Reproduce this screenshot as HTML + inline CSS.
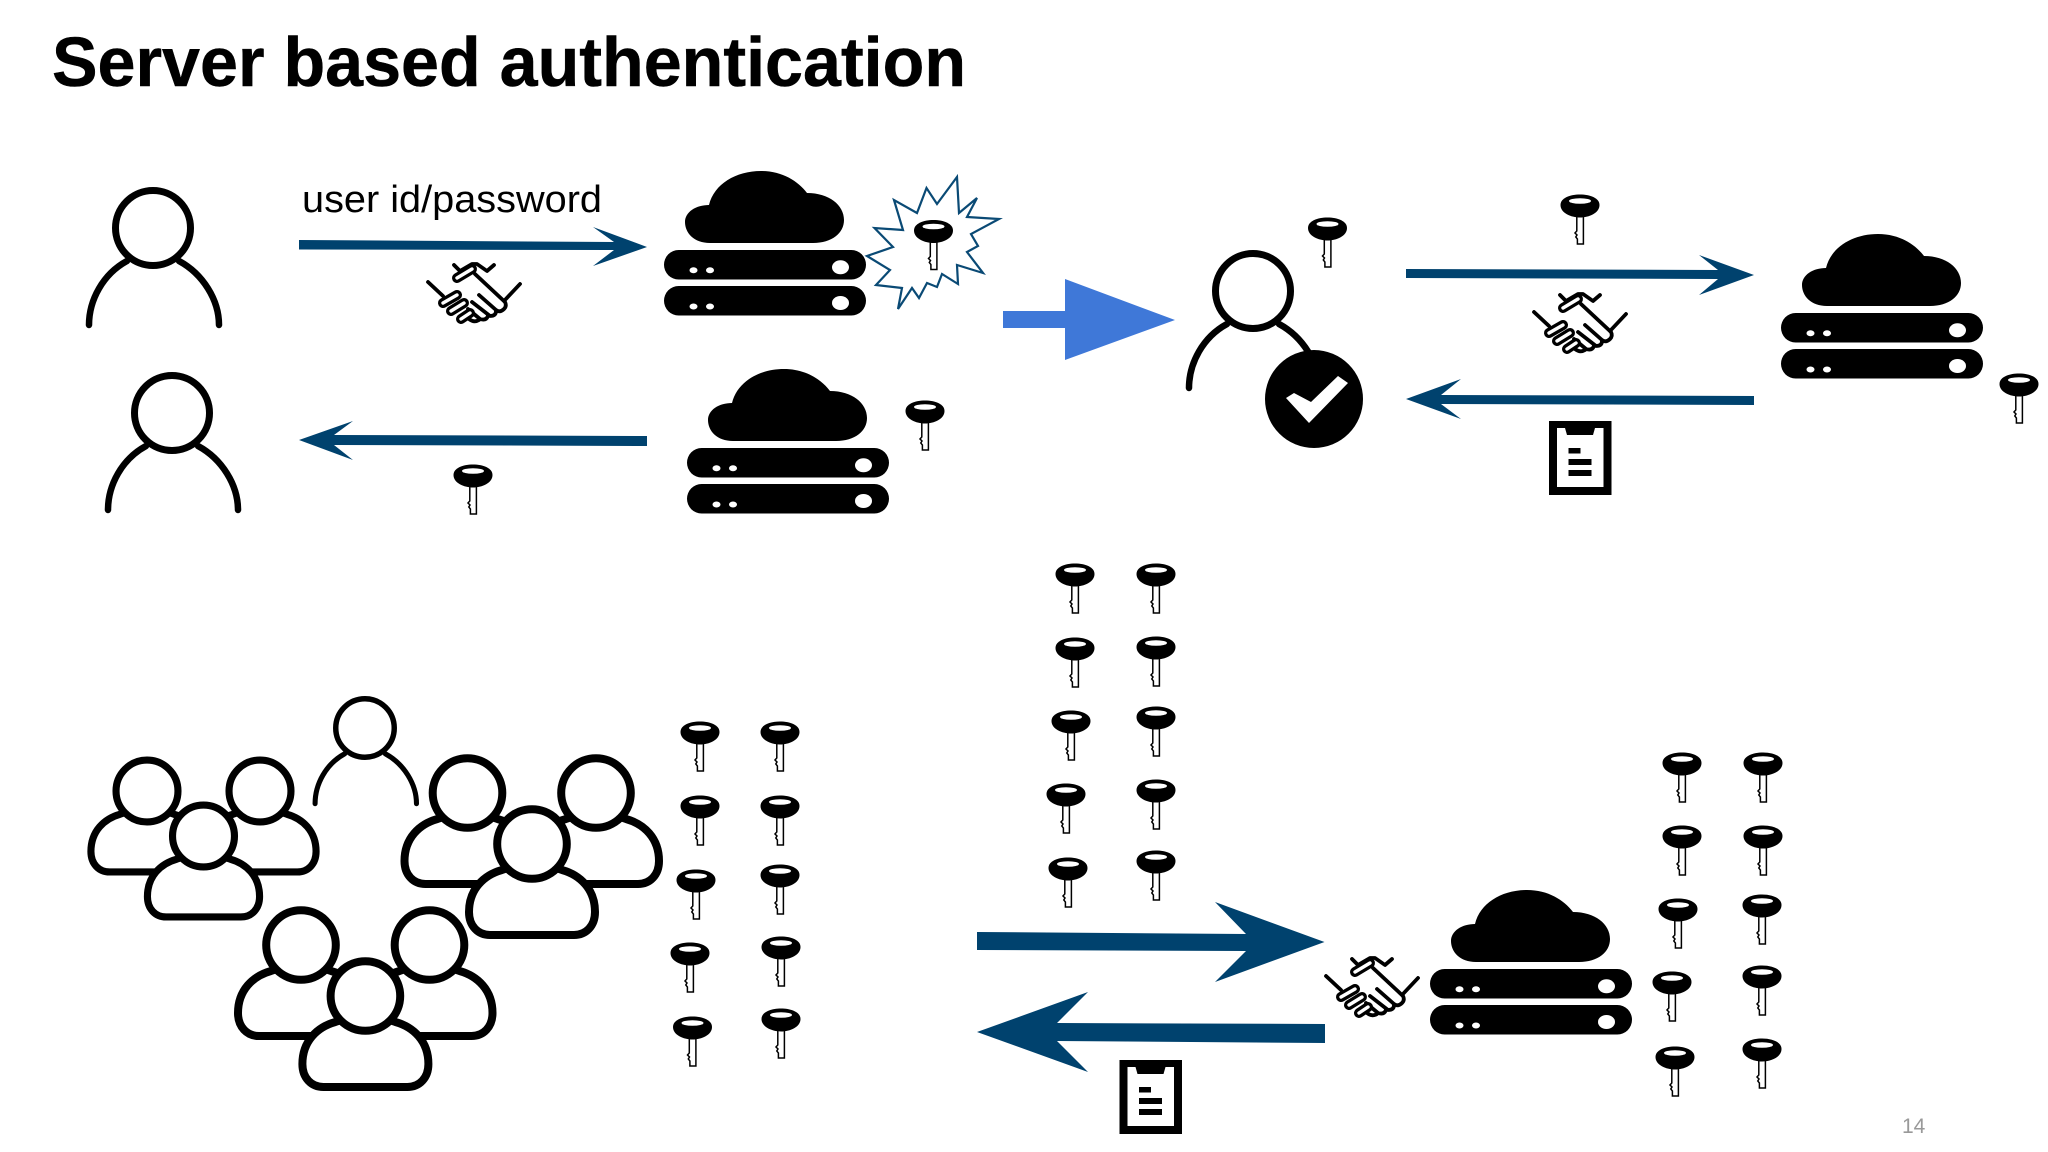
<!DOCTYPE html>
<html>
<head>
<meta charset="utf-8">
<style>
html,body{margin:0;padding:0;background:#fff;width:2048px;height:1152px;overflow:hidden}
svg{display:block}
</style>
</head>
<body>
<svg xmlns="http://www.w3.org/2000/svg" width="2048" height="1152" viewBox="0 0 2048 1152">
<defs>
<symbol id="k" overflow="visible">
  <path d="M-3.2,9 V25 L-5,27 L-3,29 L-4.2,31 L-2.6,33 V38 H3.4 V9 Z" fill="#fff" stroke="#000" stroke-width="1.5"/>
  <path d="M-19.5,-1 C-19.5,-8 -10,-11.5 0,-11.5 C10,-11.5 19.5,-8 19.5,-1 C19.5,7 9,11.5 0,11.5 C-9,11.5 -19.5,7 -19.5,-1 Z" fill="#000"/>
  <ellipse cx="0" cy="-5" rx="11" ry="2.8" fill="#fff"/>
</symbol>
<symbol id="s" overflow="visible">
  <path d="M46,-6 C30,-6 21,-16 21,-27 C21,-37 32,-44 45,-44 C50,-65 72,-78 97,-78 C118,-78 134,-68 143,-56 C165,-56 180,-44 180,-29 C180,-16 168,-6 149,-6 Z" fill="#000"/>
  <rect x="0" y="1" width="202" height="29.5" rx="14.7" fill="#000"/>
  <rect x="0" y="37" width="202" height="29.5" rx="14.7" fill="#000"/>
  <ellipse cx="29.5" cy="21.3" rx="4" ry="3" fill="#fff"/><ellipse cx="46" cy="21.3" rx="4" ry="3" fill="#fff"/>
  <ellipse cx="176.5" cy="18.3" rx="8.5" ry="7" fill="#fff"/>
  <ellipse cx="29.5" cy="57.5" rx="4" ry="3" fill="#fff"/><ellipse cx="46" cy="57.5" rx="4" ry="3" fill="#fff"/>
  <ellipse cx="176.5" cy="54" rx="8.5" ry="7" fill="#fff"/>
</symbol>
<symbol id="p" overflow="visible">
  <g fill="none" stroke="#000" stroke-width="6.5" stroke-linecap="round">
    <path d="M-64,97 C-64,72 -50,46 -26,33"/>
    <path d="M66,97 C66,72 50,46 26,33"/>
    <circle cx="0" cy="0" r="37.5" stroke-width="7"/>
  </g>
</symbol>
<symbol id="c" overflow="visible">
  <path d="M-24,24 L-30,26 C-48,31 -63,45 -63,68 C-63,82 -54,91 -42,91 H42 C54,91 63,82 63,68 C63,45 48,31 30,26 L24,24 Z" fill="#fff" stroke="#000" stroke-width="8" stroke-linejoin="round"/>
  <circle cx="0" cy="0" r="34.8" fill="#fff" stroke="#000" stroke-width="8"/>
</symbol>
<symbol id="d" overflow="visible">
  <rect x="0" y="0" width="62.5" height="74" fill="#000"/>
  <rect x="8" y="7" width="46.5" height="59" fill="#fff"/>
  <path d="M16,7 H46 L44,14 H18 Z" fill="#000"/>
  <rect x="19.5" y="27" width="12" height="5.5" fill="#000"/>
  <rect x="19.5" y="38" width="23" height="6" fill="#000"/>
  <rect x="19.5" y="49" width="23" height="6" fill="#000"/>
</symbol>
<symbol id="h" overflow="visible">
  <g fill="none" stroke="#000" stroke-width="3.8" stroke-linecap="round" stroke-linejoin="round">
    <path d="M6,26 L21,40"/>
    <path d="M98,28 L82,45"/>
    <path d="M32,9 L38,15 L50,8 L55,8 L65,15 L72,9"/>
    <path d="M53,18 L83,46 Q85,50 82,53 Q78,57 74,54 L57,39"/>
    <path d="M74,55 Q74,60 68,60 L50,46"/>
    <path d="M66,60 Q64,65 58,63 L46,53"/>
    <path d="M57,64 Q52,67 47,63"/>
  </g>
  <g fill="none" stroke-linecap="round">
    <path d="M35,22 L50,13" stroke="#000" stroke-width="10"/>
    <path d="M35,22 L50,13" stroke="#fff" stroke-width="3.4"/>
    <path d="M21,47 L35,39" stroke="#000" stroke-width="10"/>
    <path d="M21,47 L35,39" stroke="#fff" stroke-width="3.4"/>
    <path d="M29,55 L42,47" stroke="#000" stroke-width="10"/>
    <path d="M29,55 L42,47" stroke="#fff" stroke-width="3.4"/>
    <path d="M39,63 L48,57" stroke="#000" stroke-width="10"/>
    <path d="M39,63 L48,57" stroke="#fff" stroke-width="3.4"/>
  </g>
</symbol>
</defs>

<rect width="2048" height="1152" fill="#fff"/>

<text x="52" y="86" font-family="'Liberation Sans',Arial,sans-serif" font-weight="700" font-size="70" fill="#000" stroke="#000" stroke-width="0.5" textLength="914" lengthAdjust="spacingAndGlyphs">Server based authentication</text>
<text x="302" y="212" font-family="'Liberation Sans',Arial,sans-serif" font-size="38" fill="#000" textLength="300" lengthAdjust="spacingAndGlyphs">user id/password</text>
<text x="1902" y="1133" font-family="'Liberation Sans',Arial,sans-serif" font-size="21" fill="#999">14</text>

<!-- arrows -->
<g fill="#00426e">
  <polygon points="299,240 614,242 593,227 647,247 593,266 614,250 299,249.5"/>
  <polygon points="647,436 334,435 353,421 299,440 353,460 334,445 647,446"/>
  <polygon points="1406,269 1718,270 1699,255 1754,275 1699,295 1718,279 1406,278"/>
  <polygon points="1754,396 1441,395 1461,379 1406,399 1461,419 1441,404 1754,405"/>
  <polygon points="977,932 1246,934 1215,902 1324.5,942 1215,982 1246,951 977,950"/>
  <polygon points="1325,1024 1057,1023 1088,992 977,1032 1088,1072 1057,1041 1325,1043"/>
</g>
<polygon points="1003,311 1065,311 1065,279 1175,320 1065,360 1065,328 1003,328" fill="#3f78d8"/>

<!-- burst -->
<polygon points="957,177 959,213 977,198 967,217 999,219 971,234 978,246 967,252 983,273 957,265 958,284 942,274 937,287 927,283 919,298 912,288 898,309 902,288 876,285 890,270 867,256 893,247 874.5,228 903,230 894,200 917,213 926.5,188 937,204" fill="#fff" stroke="#0a4a75" stroke-width="2.2" stroke-linejoin="miter"/>

<!-- people top -->
<use href="#p" x="153" y="228"/>
<use href="#p" x="172" y="413"/>
<use href="#p" x="1253" y="291"/>
<circle cx="1314" cy="399" r="49" fill="#000"/>
<polygon points="1286,398 1294,393 1311,402 1338,376 1348,383 1309,423" fill="#fff"/>

<!-- servers -->
<use href="#s" x="664" y="249"/>
<use href="#s" x="687" y="447"/>
<use href="#s" x="1781" y="312"/>
<use href="#s" x="1430" y="968"/>

<!-- handshakes -->
<use href="#h" x="422" y="256"/>
<use href="#h" x="1528" y="286"/>
<use href="#h" x="1320" y="950"/>

<!-- documents -->
<use href="#d" x="1549" y="421"/>
<use href="#d" x="1119.5" y="1060"/>

<!-- crowd -->
<g transform="translate(365,728) scale(.78)"><use href="#p"/></g>
<g transform="translate(147,791) scale(.89)"><use href="#c"/></g>
<g transform="translate(260,791) scale(.89)"><use href="#c"/></g>
<g transform="translate(203.5,836) scale(.89)"><use href="#c"/></g>
<use href="#c" x="467.5" y="793"/>
<use href="#c" x="596" y="793"/>
<use href="#c" x="532" y="844"/>
<use href="#c" x="301" y="945"/>
<use href="#c" x="429.5" y="945"/>
<use href="#c" x="365.4" y="996"/>

<!-- keys -->
<use href="#k" x="933.5" y="231.5"/>
<use href="#k" x="473" y="476"/>
<use href="#k" x="925" y="412"/>
<use href="#k" x="1580" y="206"/>
<use href="#k" x="1327.5" y="229"/>
<use href="#k" x="2019" y="385"/>

<use href="#k" x="700" y="733"/>
<use href="#k" x="700" y="807"/>
<use href="#k" x="696" y="881"/>
<use href="#k" x="690" y="954"/>
<use href="#k" x="692.5" y="1028"/>
<use href="#k" x="780" y="733"/>
<use href="#k" x="780" y="807"/>
<use href="#k" x="780" y="876"/>
<use href="#k" x="781" y="948"/>
<use href="#k" x="781" y="1020"/>

<use href="#k" x="1075" y="575"/>
<use href="#k" x="1075" y="649"/>
<use href="#k" x="1071" y="722"/>
<use href="#k" x="1066" y="795"/>
<use href="#k" x="1068" y="869"/>
<use href="#k" x="1156" y="575"/>
<use href="#k" x="1156" y="648"/>
<use href="#k" x="1156" y="718"/>
<use href="#k" x="1156" y="791"/>
<use href="#k" x="1156" y="862"/>

<use href="#k" x="1682" y="764"/>
<use href="#k" x="1682" y="837"/>
<use href="#k" x="1678" y="910"/>
<use href="#k" x="1672" y="983"/>
<use href="#k" x="1675" y="1058"/>
<use href="#k" x="1763" y="764"/>
<use href="#k" x="1763" y="837"/>
<use href="#k" x="1762" y="906"/>
<use href="#k" x="1762" y="977"/>
<use href="#k" x="1762" y="1050"/>
</svg>
</body>
</html>
